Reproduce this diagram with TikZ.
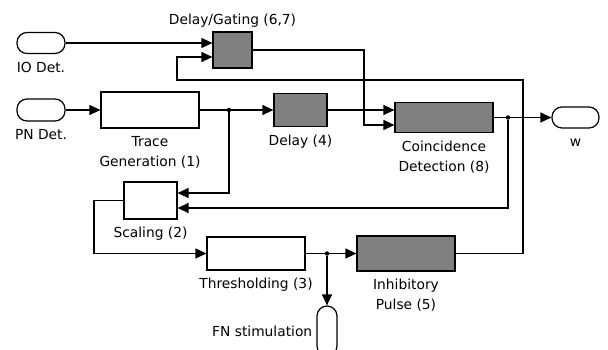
\documentclass[tikz,border=0pt]{standalone}
\usepackage{fontspec}
\setmainfont{DejaVu Sans}
\usetikzlibrary{arrows.meta}

\begin{document}
\begin{tikzpicture}[x=1pt,y=-1pt]

\tikzset{block/.style = {shape=rectangle,draw,line width=1.2pt,inner sep=0pt}}
\tikzset{dark/.style = {block,fill=gray}}
\tikzset{port/.style = {shape=rectangle,draw,line width=1.2pt,rounded corners=10pt,inner sep=0pt}}
\tikzset{edge/.style = {->,line width=1.2pt,> = {Triangle[length=11pt,width=10pt]}}}
\tikzset{dot/.style = {shape=circle,fill,inner sep=0pt,minimum size=4.5pt}}
\tikzset{every label/.append style = {font=\fontsize{13.8}{20}\selectfont,align=center,inner sep=0pt,label distance=7.5pt}}
\useasboundingbox (0,0) rectangle (608,350);
%ports
\node[port, minimum width=48pt, minimum height=21pt, label=below:{IO Det.}] (io) at (41,43) {};
\node[port, minimum width=48pt, minimum height=22pt, label=below:{PN Det.}] (pn) at (41,110) {};
\node[port, minimum width=47pt, minimum height=21pt, label={[label distance=10pt]below:{w}}] (w) at (575.5,117.5) {};
\node[port, minimum width=20pt, minimum height=50pt, label={[label distance=4pt]left:{FN stimulation}}] (fn) at (327,331) {};
%blocks
\node[dark, minimum width=39pt, minimum height=36pt, label={[label distance=4pt]above:{Delay/Gating (6,7)}}] (gate) at (232.5,50) {};
\node[block, minimum width=98pt, minimum height=36pt, label=below:{Trace\\Generation (1)}] (trace) at (150,110) {};
\node[dark, minimum width=53pt, minimum height=33pt, label=below:{Delay (4)}] (delay) at (300.5,110) {};
\node[dark, minimum width=98pt, minimum height=30pt, label=below:{Coincidence\\Detection (8)}] (coin) at (444,117.5) {};
\node[block, minimum width=53pt, minimum height=37pt, label=below:{Scaling (2)}] (scale) at (150.5,200.5) {};
\node[block, minimum width=98pt, minimum height=33pt, label=below:{Thresholding (3)}] (thresh) at (256,253.5) {};
\node[dark, minimum width=98pt, minimum height=35pt, label=below:{Inhibitory\\Pulse (5)}] (inh) at (406,253.5) {};
%junctions
\node[dot] (tj) at (229,110) {};
\node[dot] (cj) at (508,117.5) {};
\node[dot] (fj) at (327,253.5) {};
\coordinate (fbr) at (523,80);
\coordinate (fbl) at (177,80);
\coordinate (gj) at (364,50);
\coordinate (sl) at (94,200.5);
%edges
\draw[edge] (io) -- ([yshift=7pt]gate.west);
\draw[edge] (inh.east) -| (fbr) -- (fbl) |- ([yshift=-7pt]gate.west);
\draw[edge] (gate.east) -- (gj) |- ([yshift=-7.5pt]coin.west);
\draw[edge] (pn) -- (trace);
\draw[edge] (trace) -- (delay);
\draw[edge] (delay.east) -- ([yshift=7.5pt]coin.west);
\draw[edge] (coin) -- (w);
\draw[edge] (cj) |- ([yshift=-7.5pt]scale.east);
\draw[edge] (tj) |- ([yshift=7.5pt]scale.east);
\draw[edge] (scale.west) -- (sl) |- (thresh.west);
\draw[edge] (thresh) -- (inh);
\draw[edge] (fj) -- (fn);

\end{tikzpicture}
\end{document}
